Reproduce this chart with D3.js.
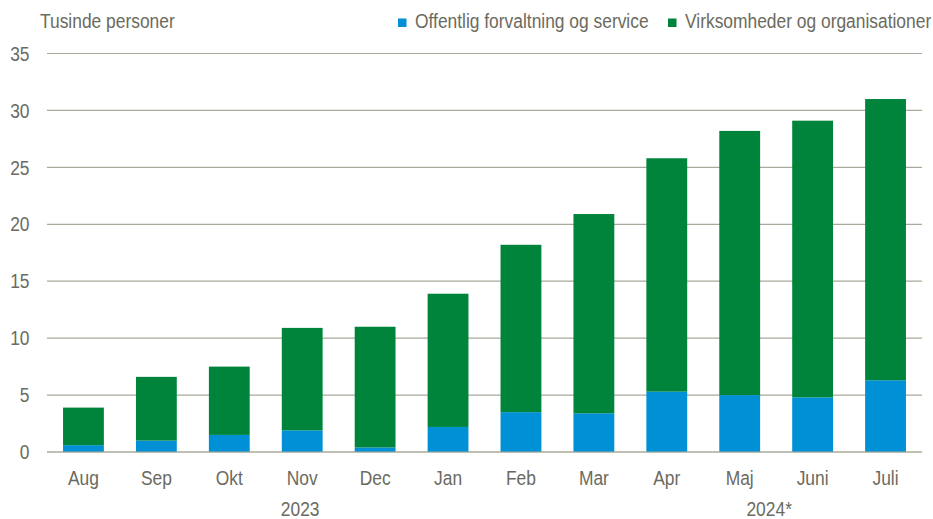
<!DOCTYPE html>
<html><head><meta charset="utf-8">
<script src="https://cdn.jsdelivr.net/npm/d3@7"></script>
<style>body{margin:0;background:#fff}svg{display:block}text{font-family:"Liberation Sans",Arial,sans-serif;fill:#6b6b60;font-size:20px}</style>
</head><body><svg id="c" width="933" height="519"></svg>
<script>
const categories = ["Aug","Sep","Okt","Nov","Dec","Jan","Feb","Mar","Apr","Maj","Juni","Juli"];
const offentlig = [0.6,1.0,1.5,1.9,0.4,2.2,3.5,3.4,5.3,5.0,4.8,6.3];
const virksomheder = [3.3,5.6,6.0,9.0,10.6,11.7,14.7,17.5,20.5,23.2,24.3,24.7];
const yTicks = [0,5,10,15,20,25,30,35];
const seriesNames = ["Offentlig forvaltning og service","Virksomheder og organisationer"];
const colors = ["#0090d6","#00843c"];
const yearLabels = [{text:"2023", from:"Nov", to:"Nov", dx:-2},{text:"2024*", from:"Maj", to:"Juni", dx:-7}];

const SX = 0.87;
const svg = d3.select("#c");
const m = {left:47, right:11, top:53.5, bottom:67};
const W = 933, H = 519;
const x = d3.scaleBand().domain(categories).range([m.left, W-m.right]).paddingInner(0.44).paddingOuter(0.22);
const y = d3.scaleLinear().domain([0,35]).range([H-m.bottom, m.top]);

function place(sel, fx, fy){
  sel.attr("transform", (d,i)=>`translate(${fx(d,i)},${fy(d,i)}) scale(${SX},1)`);
}

// gridlines
svg.append("g").selectAll("line").data(yTicks).join("line")
  .attr("x1", m.left).attr("x2", W-m.right)
  .attr("y1", d=>y(d)).attr("y2", d=>y(d))
  .attr("stroke", "#a9a99c").attr("stroke-width", 1.2);

// y labels
svg.append("g").selectAll("text").data(yTicks).join("text")
  .attr("dy","0.36em").attr("text-anchor","end").text(d=>d)
  .call(place, ()=>29.5, d=>y(d));

const data = categories.map((c,i)=>({cat:c, o:offentlig[i], v:virksomheder[i]}));
const stack = d3.stack().keys(["o","v"])(data);
svg.append("g").selectAll("g").data(stack).join("g")
  .attr("fill",(d,i)=>colors[i])
  .selectAll("rect").data(d=>d).join("rect")
  .attr("x", d=>x(d.data.cat)).attr("width", x.bandwidth())
  .attr("y", d=>y(d[1])).attr("height", d=>y(d[0])-y(d[1]));

// baseline
svg.append("line").attr("x1",m.left).attr("x2",W-m.right).attr("y1",y(0)).attr("y2",y(0))
  .attr("stroke","#a9a99c").attr("stroke-width",1.2);

// x labels
svg.append("g").selectAll("text").data(categories).join("text")
  .attr("text-anchor","middle").text(d=>d)
  .call(place, d=>x(d)+x.bandwidth()/2, ()=>485);

svg.append("g").selectAll("text").data(yearLabels).join("text")
  .attr("text-anchor","middle").text(d=>d.text)
  .call(place, d=>(x(d.from)+x(d.to))/2 + x.bandwidth()/2 + d.dx, ()=>516);

// title
svg.append("text").text("Tusinde personer").call(place, ()=>40, ()=>28);

// legend
const leg = [{x:398, i:0},{x:668, i:1}];
const lg = svg.append("g").selectAll("g").data(leg).join("g").attr("transform",d=>`translate(${d.x},0)`);
lg.append("rect").attr("x",0).attr("y",18.5).attr("width",8.5).attr("height",8.5).attr("fill",d=>colors[d.i]);
lg.append("text").text(d=>seriesNames[d.i]).call(place, ()=>17, ()=>28);
</script></body></html>
